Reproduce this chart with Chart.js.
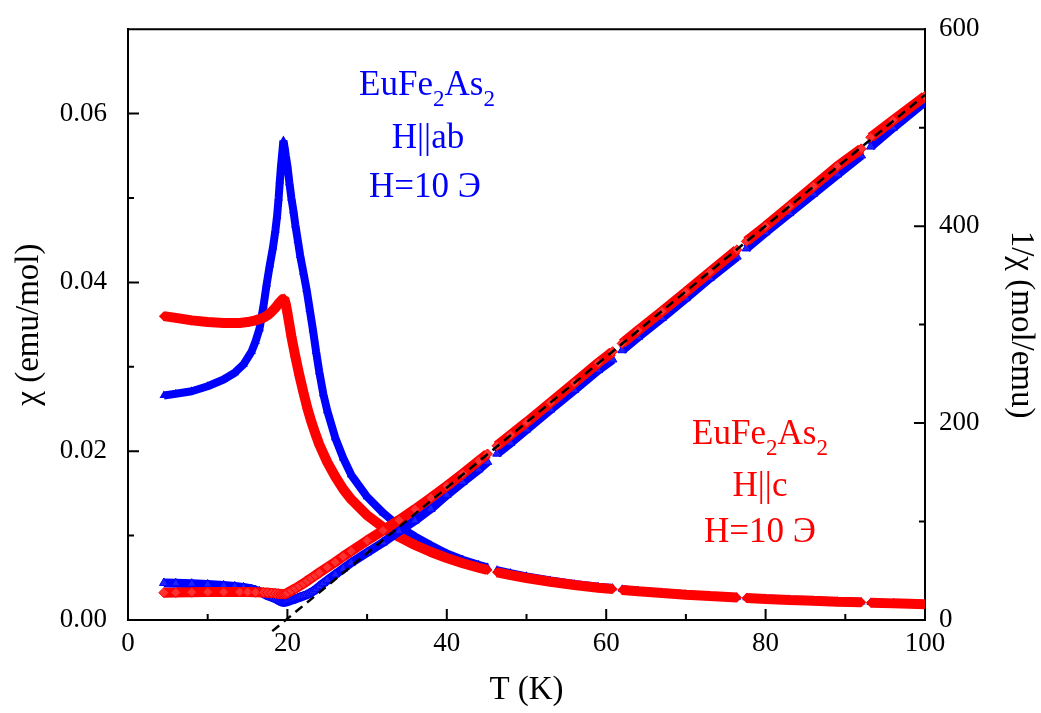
<!DOCTYPE html>
<html>
<head>
<meta charset="utf-8">
<script src="https://cdn.jsdelivr.net/npm/chart.js@4.4.1/dist/chart.umd.min.js"></script>
<style>
  html, body { margin: 0; padding: 0; background: #fff; }
  #wrap { width: 1041px; height: 713px; }
</style>
</head>
<body>
<div id="wrap"><canvas id="chiChart"></canvas></div>
<script>
// H || ab : temperature (K) and susceptibility (emu/mol); null marks a break in the run
const tempAb = [4.5, 6, 8, 10, 12, 13.4, 14.5, 15.5, 16, 16.5, 17, 17.4, 17.8, 18.2, 18.5,
  18.7, 18.9, 19.05, 19.2, 19.35, 19.5, 19.65, 19.8, 20, 20.25, 20.5, 20.75, 21, 21.3, 21.6,
  22, 22.4, 22.8, 23.2, 23.6, 24, 24.5, 25, 26, 27, 28, 30, 32, 34, 36, 38, 40, 42, 44, 45.1,
  45.7, 46.3, 48, 50, 53, 56, 59, 60.8, 61.4, 62.0, 64, 67, 70, 73, 76.4, 77, 77.6, 80, 83, 86,
  89, 92.0, 92.6, 93.2, 96, 100];
const chiAb = [0.0266, 0.0268, 0.0271, 0.0277, 0.0285, 0.0293, 0.0303, 0.0318, 0.0330, 0.0345,
  0.0372, 0.0398, 0.0421, 0.0442, 0.0462, 0.0478, 0.0500, 0.0520, 0.0538, 0.0553,
  0.0568, 0.0560, 0.0550, 0.0538, 0.0518, 0.0500, 0.0485, 0.0468, 0.0450, 0.0432,
  0.0412, 0.0392, 0.0368, 0.0344, 0.0318, 0.0294, 0.0268, 0.0248, 0.0216, 0.0192,
  0.0172, 0.0146, 0.0127, 0.0111, 0.00990, 0.00885, 0.00787, 0.00714, 0.00654, 0.00623,
  null, 0.00592, 0.00556, 0.00517, 0.00468, 0.00428, 0.00394, 0.00378, null, 0.00365,
  0.00348, 0.00326, 0.00306, 0.00288, 0.00271, null, 0.00265, 0.00254, 0.00242, 0.00231,
  0.00221, 0.00212, null, 0.00208, 0.00200, 0.00190];

// H || c
const tempC = [4.5, 6, 8, 10, 12, 14, 15, 16, 17, 17.5, 18, 18.5, 18.9, 19.2, 19.4,
  19.6, 19.8, 20, 20.5, 21, 21.5, 22, 22.5, 23, 23.5, 24, 25, 26, 27, 28,
  30, 32, 34, 36, 38, 40, 42, 44, 45.1, 45.7, 46.3, 48, 50, 53, 56,
  59, 60.8, 61.4, 62.0, 64, 67, 70, 73, 76.4, 77, 77.6, 80, 83, 86, 89,
  92.0, 92.6, 93.2, 96, 100];
const chiC = [0.0360, 0.0358, 0.0355, 0.0353, 0.0352, 0.0352, 0.0353, 0.0355, 0.0358, 0.0361,
  0.0365, 0.0370, 0.0375, 0.0378, 0.0380, 0.0381, 0.0374, 0.0364, 0.0336, 0.0312,
  0.0290, 0.0270, 0.0251, 0.0235, 0.0221, 0.0208, 0.0187, 0.0170, 0.0155, 0.0143,
  0.0124, 0.0110, 0.00985, 0.00889, 0.00806, 0.00735, 0.00673, 0.00619, 0.00593, null,
  0.00565, 0.00532, 0.00498, 0.00453, 0.00415, 0.00383, 0.00367, null, 0.00356, 0.00340,
  0.00319, 0.00300, 0.00283, 0.00266, null, 0.00260, 0.00250, 0.00238, 0.00227, 0.00217,
  0.00209, null, 0.00204, 0.00197, 0.00188];

// Curie-Weiss line through the high-T part of 1/chi
const fitT = [18.1, 100];
const fitInv = [-11.3, 533.3];

const xTicks = [0, 20, 40, 60, 80, 100];
const chiTicks = [0, 0.02, 0.04, 0.06];
const invTicks = [0, 200, 400, 600];

const BLUE = '#0000ff';
const RED = '#ff0000';
const SERIF = '"Liberation Serif", "Times New Roman", serif';

const pts = (t, v) => t.map((x, i) => ({ x: x, y: v[i] }));
const inv = (t, v) => t.map((x, i) => ({ x: x, y: v[i] === null ? null : 1 / v[i] }));

// inward tick marks, top frame line and the in-plot captions
const framePlugin = {
  id: 'frame',
  afterDatasetsDraw(chart) {
    const { ctx, chartArea: a, scales } = chart;
    ctx.save();
    ctx.strokeStyle = '#000';
    ctx.lineWidth = 2;
    ctx.beginPath();
    ctx.moveTo(a.left - 1, a.top);
    ctx.lineTo(a.right + 1, a.top);
    for (let i = 0; i <= 10; i++) {
      const px = scales.x.getPixelForValue(i * 10);
      ctx.moveTo(px, a.bottom);
      ctx.lineTo(px, a.bottom - (i % 2 === 0 ? 11 : 6));
    }
    for (let i = 0; i <= 6; i++) {
      const py = scales.y.getPixelForValue(i * 0.01);
      ctx.moveTo(a.left, py);
      ctx.lineTo(a.left + (i % 2 === 0 ? 11 : 6), py);
      const qy = scales.y1.getPixelForValue(i * 100);
      ctx.moveTo(a.right, qy);
      ctx.lineTo(a.right - (i % 2 === 0 ? 11 : 6), qy);
    }
    ctx.stroke();
    ctx.restore();

    drawFormula(ctx, 427, 95, BLUE);
    drawLine(ctx, 'H||ab', 428, 148, BLUE);
    drawLine(ctx, 'H=10 Э', 425, 197, BLUE);
    drawFormula(ctx, 760, 444, RED);
    drawLine(ctx, 'H||c', 760, 496, RED);
    drawLine(ctx, 'H=10 Э', 760, 542, RED);
  }
};

function drawLine(ctx, text, cx, base, color) {
  ctx.save();
  ctx.font = '35px ' + SERIF;
  ctx.fillStyle = color;
  ctx.textAlign = 'center';
  ctx.textBaseline = 'alphabetic';
  ctx.fillText(text, cx, base);
  ctx.restore();
}

// EuFe2As2 with subscripted 2s
function drawFormula(ctx, cx, base, color) {
  const parts = [['EuFe', false], ['2', true], ['As', false], ['2', true]];
  const big = '35px ' + SERIF;
  const small = '23px ' + SERIF;
  ctx.save();
  ctx.fillStyle = color;
  ctx.textBaseline = 'alphabetic';
  ctx.textAlign = 'left';
  let total = 0;
  parts.forEach(([t, sub]) => { ctx.font = sub ? small : big; total += ctx.measureText(t).width; });
  let x = cx - total / 2;
  parts.forEach(([t, sub]) => {
    ctx.font = sub ? small : big;
    ctx.fillText(t, x, sub ? base + 11 : base);
    x += ctx.measureText(t).width;
  });
  ctx.restore();
}

const tickFont = { family: SERIF, size: 27 };
const titleFont = { family: SERIF, size: 33 };

new Chart(document.getElementById('chiChart'), {
  type: 'scatter',
  data: {
    datasets: [
      {
        label: 'fit',
        data: pts(fitT, fitInv),
        yAxisID: 'y1',
        showLine: true,
        borderColor: '#000',
        borderWidth: 2.5,
        borderDash: [9, 6],
        pointRadius: 0,
        clip: false
      },
      {
        label: '1/chi H||c',
        data: inv(tempC, chiC),
        yAxisID: 'y1',
        showLine: true,
        spanGaps: false,
        borderColor: RED,
        borderWidth: 10,
        borderJoinStyle: 'bevel',
        pointStyle: 'rectRot',
        pointRadius: 5,
        pointBackgroundColor: '#ff3030',
        pointBorderColor: RED,
        pointBorderWidth: 1
      },
      {
        label: '1/chi H||ab',
        data: inv(tempAb, chiAb),
        yAxisID: 'y1',
        showLine: true,
        spanGaps: false,
        borderColor: BLUE,
        borderWidth: 9,
        borderJoinStyle: 'bevel',
        pointStyle: 'triangle',
        pointRadius: 5,
        pointBackgroundColor: '#2020ff',
        pointBorderColor: BLUE,
        pointBorderWidth: 1
      },
      {
        label: 'chi H||c',
        data: pts(tempC, chiC),
        yAxisID: 'y',
        showLine: true,
        spanGaps: false,
        borderColor: RED,
        borderWidth: 10,
        borderJoinStyle: 'bevel',
        pointStyle: 'rectRot',
        pointRadius: 5,
        pointBackgroundColor: RED,
        pointBorderWidth: 0
      },
      {
        label: 'chi H||ab',
        data: pts(tempAb, chiAb),
        yAxisID: 'y',
        showLine: true,
        spanGaps: false,
        borderColor: BLUE,
        borderWidth: 8,
        borderJoinStyle: 'bevel',
        pointStyle: 'triangle',
        pointRadius: 5,
        pointBackgroundColor: BLUE,
        pointBorderWidth: 0
      }
    ]
  },
  options: {
    responsive: true,
    maintainAspectRatio: false,
    animation: false,
    layout: { padding: { top: 19, left: 0, right: 0, bottom: 0 } },
    plugins: { legend: { display: false }, tooltip: { enabled: false } },
    scales: {
      x: {
        type: 'linear',
        min: 0,
        max: 100,
        afterFit: s => { s.height = 93; },
        afterBuildTicks: s => { s.ticks = xTicks.map(v => ({ value: v })); },
        grid: { display: false },
        border: { display: true, color: '#000', width: 2 },
        ticks: { color: '#000', font: tickFont, padding: 0, maxRotation: 0 },
        title: { display: true, text: 'T (K)', color: '#000', font: titleFont, padding: { top: 0, bottom: 3 } }
      },
      y: {
        type: 'linear',
        position: 'left',
        min: 0,
        max: 0.07,
        afterFit: s => { s.width = 128; },
        afterBuildTicks: s => { s.ticks = chiTicks.map(v => ({ value: v })); },
        grid: { display: false },
        border: { display: true, color: '#000', width: 2 },
        ticks: { color: '#000', font: tickFont, padding: 13, callback: v => v.toFixed(2) },
        title: { display: true, text: 'χ (emu/mol)', color: '#000', font: titleFont, padding: { top: 10, bottom: 0 } }
      },
      y1: {
        type: 'linear',
        position: 'right',
        min: 0,
        max: 600,
        afterFit: s => { s.width = 116; },
        afterBuildTicks: s => { s.ticks = invTicks.map(v => ({ value: v })); },
        grid: { display: false },
        border: { display: true, color: '#000', width: 2 },
        ticks: { color: '#000', font: tickFont, padding: 6 },
        title: { display: true, text: '1/χ (mol/emu)', color: '#000', font: titleFont, padding: { top: 1, bottom: 0 } }
      }
    }
  },
  plugins: [framePlugin]
});
</script>
</body>
</html>
